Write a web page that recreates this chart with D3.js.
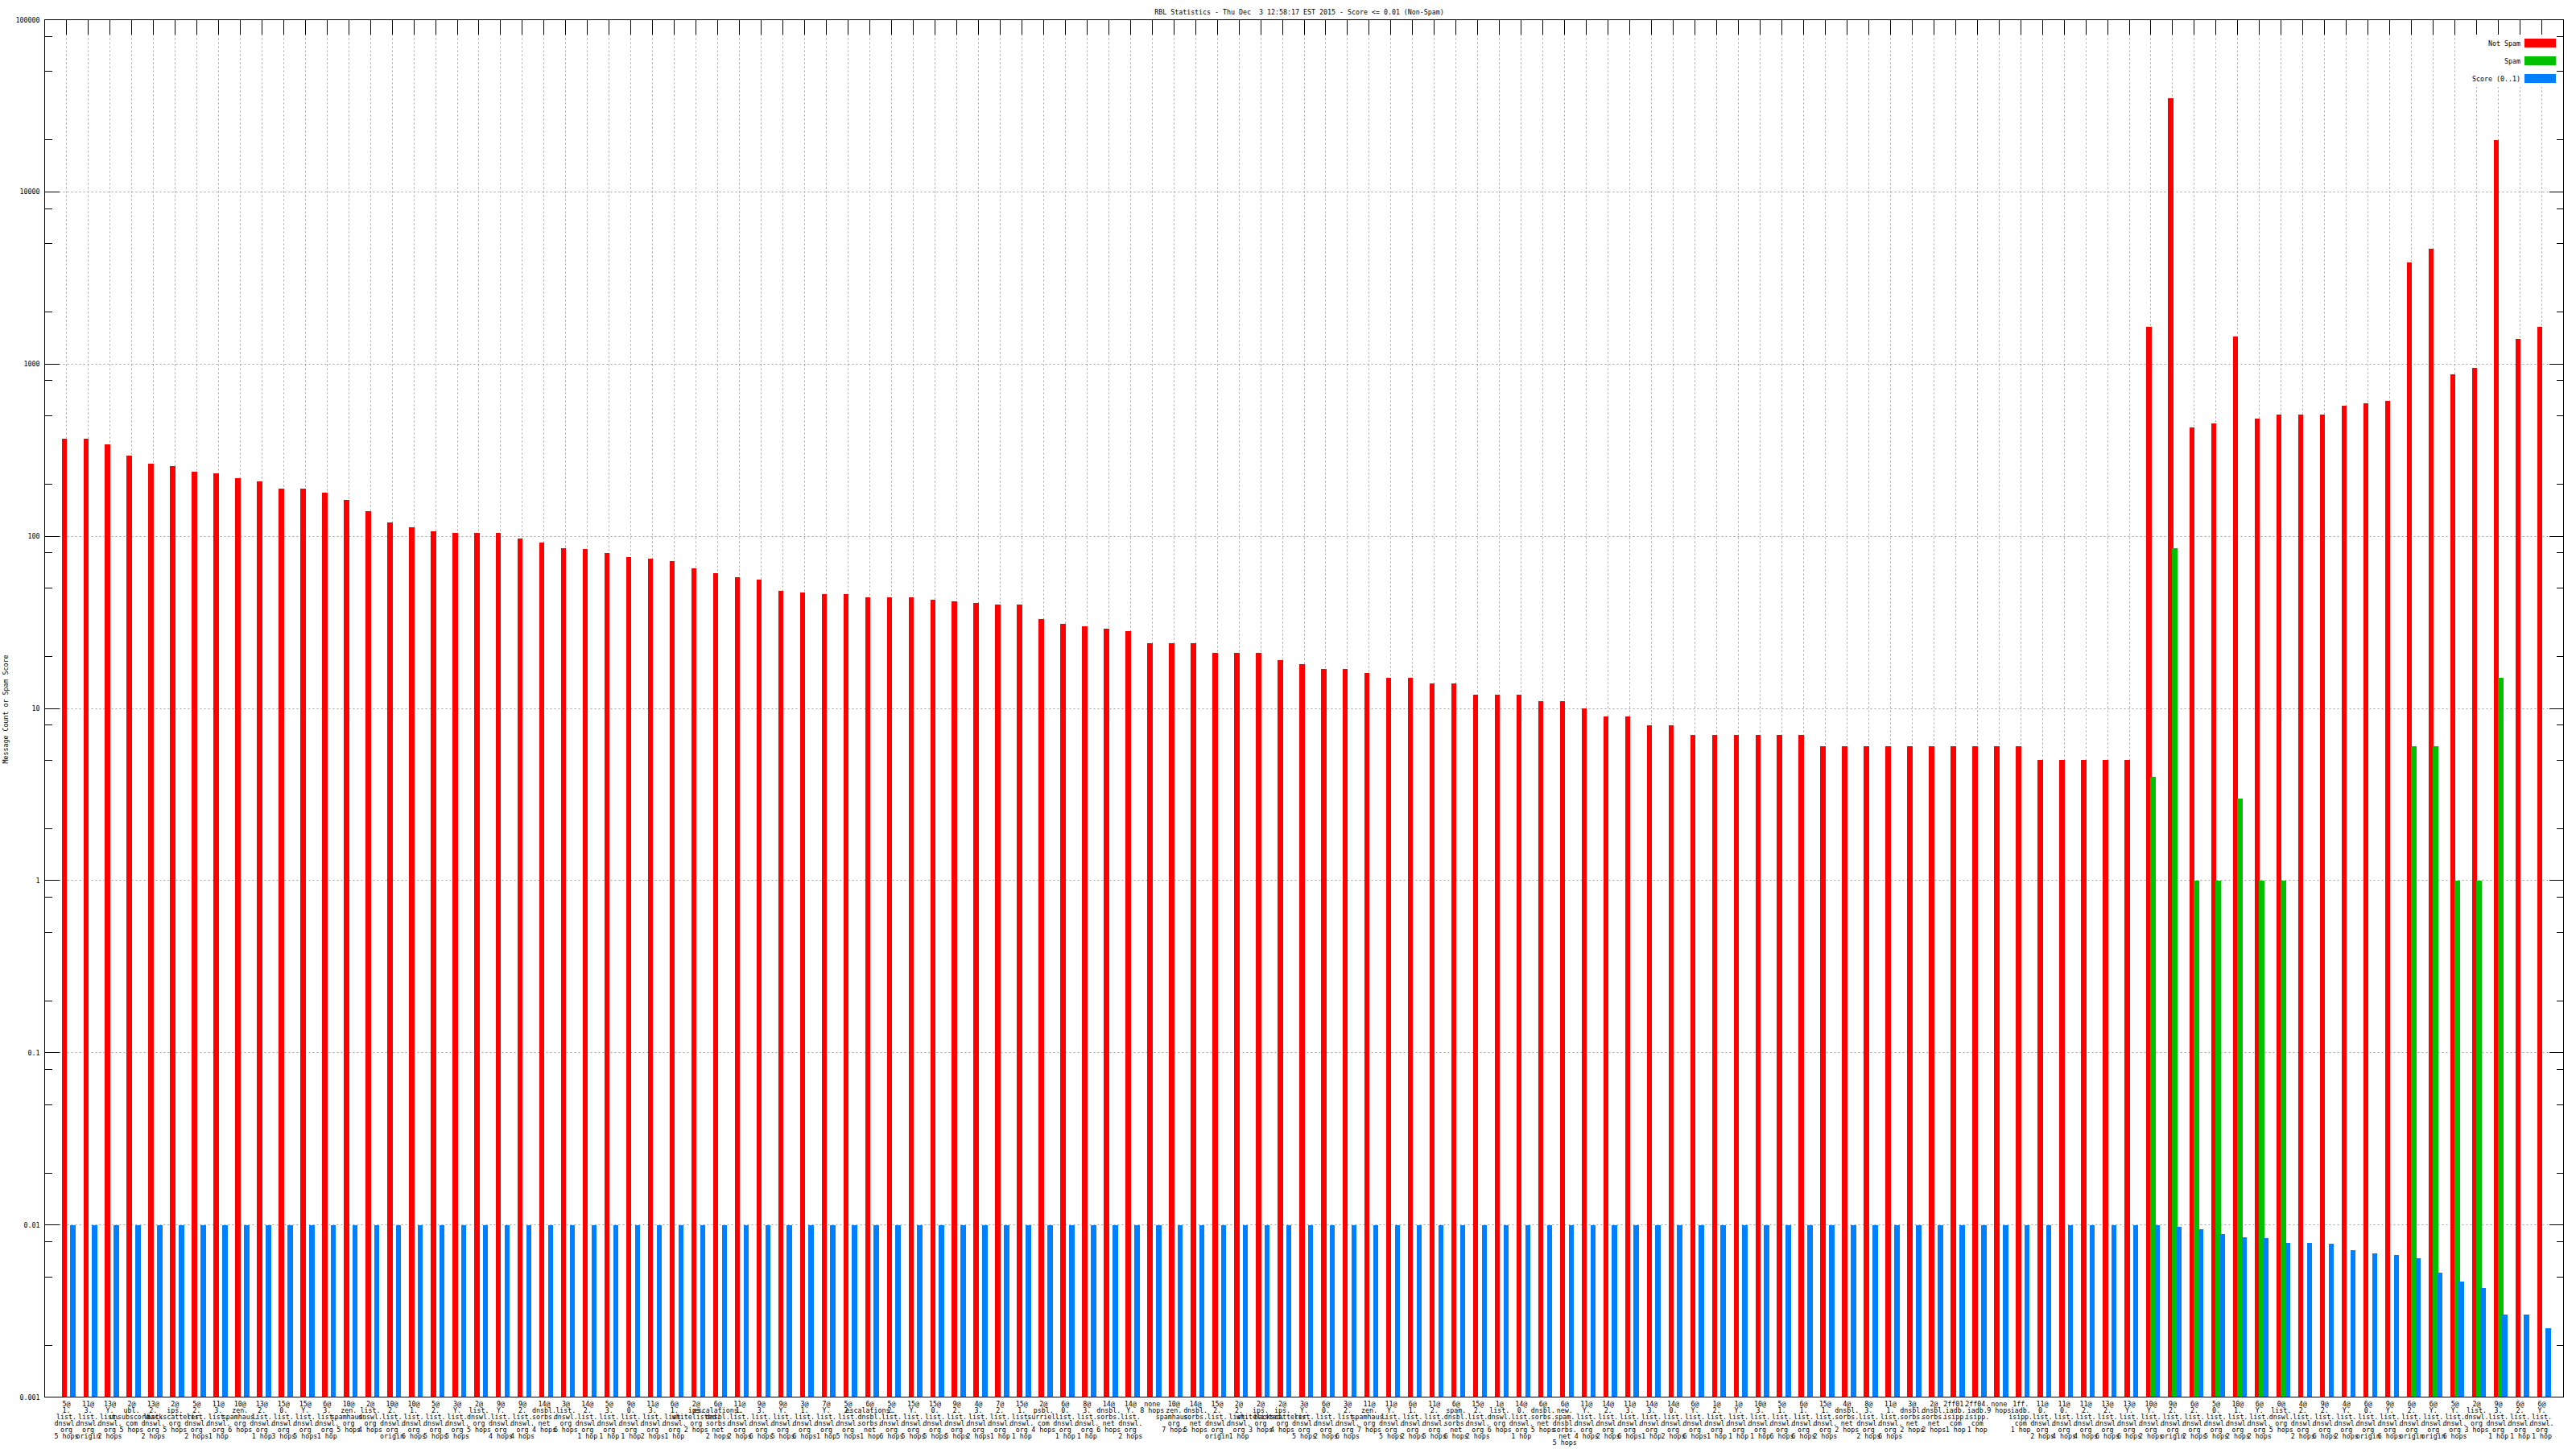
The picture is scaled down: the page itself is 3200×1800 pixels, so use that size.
<!DOCTYPE html>
<html>
<head>
<meta charset="utf-8">
<script src="https://cdn.jsdelivr.net/npm/d3@7"></script>
<style>
  html, body { margin: 0; padding: 0; background: #fff; }
  svg text { font-family: "DejaVu Sans Mono", "Liberation Mono", monospace; font-size: 8.3px; fill: #000; white-space: pre; }
</style>
</head>
<body>
<svg id="chart" width="3200" height="1800"></svg>
<script>
// ---------- DATA ----------
const title = "RBL Statistics - Thu Dec  3 12:58:17 EST 2015 - Score <= 0.01 (Non-Spam)";
const yAxisTitle = "Message Count or Spam Score";
const seriesNames = ["Not Spam", "Spam", "Score (0..1)"];
const seriesColors = ["#ff0000", "#00c000", "#0080ff"];

const categories = [
  "5@|1.|list.|dnswl.|org|5 hops", "11@|3.|list.|dnswl.|org|origin", "13@|Y.|list.|dnswl.|org|2 hops", "2@|ubl.|unsubscore.|com|5 hops", "13@|2.|list.|dnswl.|org|2 hops",
  "2@|ips.|backscatterer.|org|5 hops", "5@|2.|list.|dnswl.|org|2 hops", "11@|3.|list.|dnswl.|org|1 hop", "10@|zen.|spamhaus.|org|6 hops", "13@|2.|list.|dnswl.|org|1 hop",
  "15@|0.|list.|dnswl.|org|3 hops", "15@|Y.|list.|dnswl.|org|5 hops", "6@|3.|list.|dnswl.|org|1 hop", "10@|zen.|spamhaus.|org|5 hops", "2@|list.|dnswl.|org|4 hops",
  "10@|2.|list.|dnswl.|org|origin", "10@|1.|list.|dnswl.|org|6 hops", "5@|2.|list.|dnswl.|org|5 hops", "3@|Y.|list.|dnswl.|org|5 hops", "2@|list.|dnswl.|org|5 hops",
  "9@|Y.|list.|dnswl.|org|4 hops", "9@|2.|list.|dnswl.|org|4 hops", "14@|dnsbl.|sorbs.|net|4 hops", "3@|list.|dnswl.|org|6 hops", "14@|2.|list.|dnswl.|org|1 hop",
  "5@|3.|list.|dnswl.|org|1 hop", "9@|0.|list.|dnswl.|org|1 hop", "11@|3.|list.|dnswl.|org|2 hops", "6@|1.|list.|dnswl.|org|1 hop", "2@|ips.|whitelisted.|org|2 hops",
  "6@|escalations.|dnsbl.|sorbs.|net|2 hops", "11@|1.|list.|dnswl.|org|2 hops", "9@|3.|list.|dnswl.|org|6 hops", "9@|Y.|list.|dnswl.|org|5 hops", "3@|1.|list.|dnswl.|org|6 hops",
  "7@|Y.|list.|dnswl.|org|1 hop", "5@|2.|list.|dnswl.|org|5 hops", "6@|escalations.|dnsbl.|sorbs.|net|1 hop", "5@|2.|list.|dnswl.|org|6 hops", "15@|Y.|list.|dnswl.|org|5 hops",
  "15@|0.|list.|dnswl.|org|5 hops", "9@|2.|list.|dnswl.|org|5 hops", "4@|3.|list.|dnswl.|org|2 hops", "7@|2.|list.|dnswl.|org|1 hop", "15@|1.|list.|dnswl.|org|1 hop",
  "2@|psbl.|surriel.|com|4 hops", "6@|0.|list.|dnswl.|org|1 hop", "8@|3.|list.|dnswl.|org|1 hop", "14@|dnsbl.|sorbs.|net|6 hops", "14@|Y.|list.|dnswl.|org|2 hops",
  "none|8 hops", "10@|zen.|spamhaus.|org|7 hops", "14@|dnsbl.|sorbs.|net|5 hops", "15@|2.|list.|dnswl.|org|origin", "2@|2.|list.|dnswl.|org|1 hop",
  "2@|ips.|whitelisted.|org|3 hops", "2@|ips.|backscatterer.|org|4 hops", "3@|Y.|list.|dnswl.|org|5 hops", "6@|0.|list.|dnswl.|org|2 hops", "3@|2.|list.|dnswl.|org|6 hops",
  "11@|zen.|spamhaus.|org|7 hops", "11@|Y.|list.|dnswl.|org|5 hops", "6@|1.|list.|dnswl.|org|2 hops", "11@|2.|list.|dnswl.|org|5 hops", "6@|spam.|dnsbl.|sorbs.|net|6 hops",
  "15@|2.|list.|dnswl.|org|2 hops", "1@|list.|dnswl.|org|6 hops", "14@|0.|list.|dnswl.|org|1 hop", "6@|dnsbl.|sorbs.|net|5 hops", "6@|new.|spam.|dnsbl.|sorbs.|net|5 hops",
  "11@|Y.|list.|dnswl.|org|4 hops", "14@|2.|list.|dnswl.|org|2 hops", "11@|3.|list.|dnswl.|org|6 hops", "14@|3.|list.|dnswl.|org|1 hop", "14@|0.|list.|dnswl.|org|2 hops",
  "6@|Y.|list.|dnswl.|org|6 hops", "1@|2.|list.|dnswl.|org|1 hop", "1@|Y.|list.|dnswl.|org|1 hop", "10@|3.|list.|dnswl.|org|1 hop", "5@|1.|list.|dnswl.|org|6 hops",
  "6@|1.|list.|dnswl.|org|6 hops", "15@|1.|list.|dnswl.|org|2 hops", "4@|dnsbl.|sorbs.|net|2 hops", "8@|3.|list.|dnswl.|org|2 hops", "11@|1.|list.|dnswl.|org|6 hops",
  "3@|dnsbl.|sorbs.|net|2 hops", "2@|dnsbl.|sorbs.|net|2 hops", "2ff01.|iadb.|isipp.|com|1 hop", "2ff04.|iadb.|isipp.|com|1 hop", "none|9 hops",
  "1ff.|iadb.|isipp.|com|1 hop", "11@|0.|list.|dnswl.|org|2 hops", "11@|0.|list.|dnswl.|org|4 hops", "11@|2.|list.|dnswl.|org|4 hops", "13@|2.|list.|dnswl.|org|6 hops",
  "13@|Y.|list.|dnswl.|org|6 hops", "10@|Y.|list.|dnswl.|org|2 hops", "9@|2.|list.|dnswl.|org|origin", "6@|2.|list.|dnswl.|org|2 hops", "5@|0.|list.|dnswl.|org|5 hops",
  "10@|1.|list.|dnswl.|org|2 hops", "6@|Y.|list.|dnswl.|org|2 hops", "0@|list.|dnswl.|org|5 hops", "4@|2.|list.|dnswl.|org|2 hops", "9@|2.|list.|dnswl.|org|6 hops",
  "4@|Y.|list.|dnswl.|org|2 hops", "6@|0.|list.|dnswl.|org|origin", "9@|Y.|list.|dnswl.|org|6 hops", "6@|2.|list.|dnswl.|org|origin", "6@|Y.|list.|dnswl.|org|origin",
  "5@|Y.|list.|dnswl.|org|6 hops", "2@|list.|dnswl.|org|3 hops", "9@|3.|list.|dnswl.|org|1 hop", "6@|2.|list.|dnswl.|org|1 hop", "6@|Y.|list.|dnswl.|org|1 hop"
];

const notSpam = [
  370, 370, 340, 295, 265, 255, 237, 232, 217, 208,
  190, 188, 180, 162, 140, 120, 113, 107, 104, 104,
  104, 97, 92, 85, 84, 80, 76, 74, 72, 65,
  61, 58, 56, 48, 47, 46, 46, 44, 44, 44,
  43, 42, 41, 40, 40, 33, 31, 30, 29, 28,
  24, 24, 24, 21, 21, 21, 19, 18, 17, 17,
  16, 15, 15, 14, 14, 12, 12, 12, 11, 11,
  10, 9, 9, 8, 8, 7, 7, 7, 7, 7,
  7, 6, 6, 6, 6, 6, 6, 6, 6, 6,
  6, 5, 5, 5, 5, 5, 1650, 35000, 430, 450,
  1450, 480, 510, 510, 510, 570, 590, 610, 3900, 4700,
  870, 950, 20000, 1400, 1650
];

const spam = [
  0, 0, 0, 0, 0, 0, 0, 0, 0, 0,
  0, 0, 0, 0, 0, 0, 0, 0, 0, 0,
  0, 0, 0, 0, 0, 0, 0, 0, 0, 0,
  0, 0, 0, 0, 0, 0, 0, 0, 0, 0,
  0, 0, 0, 0, 0, 0, 0, 0, 0, 0,
  0, 0, 0, 0, 0, 0, 0, 0, 0, 0,
  0, 0, 0, 0, 0, 0, 0, 0, 0, 0,
  0, 0, 0, 0, 0, 0, 0, 0, 0, 0,
  0, 0, 0, 0, 0, 0, 0, 0, 0, 0,
  0, 0, 0, 0, 0, 0, 4, 85, 1, 1,
  3, 1, 1, 0, 0, 0, 0, 0, 6, 6,
  1, 1, 15, 0, 0
];

const score = [
  0.01, 0.01, 0.01, 0.01, 0.01, 0.01, 0.01, 0.01, 0.01, 0.01,
  0.01, 0.01, 0.01, 0.01, 0.01, 0.01, 0.01, 0.01, 0.01, 0.01,
  0.01, 0.01, 0.01, 0.01, 0.01, 0.01, 0.01, 0.01, 0.01, 0.01,
  0.01, 0.01, 0.01, 0.01, 0.01, 0.01, 0.01, 0.01, 0.01, 0.01,
  0.01, 0.01, 0.01, 0.01, 0.01, 0.01, 0.01, 0.01, 0.01, 0.01,
  0.01, 0.01, 0.01, 0.01, 0.01, 0.01, 0.01, 0.01, 0.01, 0.01,
  0.01, 0.01, 0.01, 0.01, 0.01, 0.01, 0.01, 0.01, 0.01, 0.01,
  0.01, 0.01, 0.01, 0.01, 0.01, 0.01, 0.01, 0.01, 0.01, 0.01,
  0.01, 0.01, 0.01, 0.01, 0.01, 0.01, 0.01, 0.01, 0.01, 0.01,
  0.01, 0.01, 0.01, 0.01, 0.01, 0.01, 0.01, 0.0098, 0.0094, 0.0088,
  0.0085, 0.0084, 0.0079, 0.0079, 0.0078, 0.0071, 0.0068, 0.0067, 0.0064, 0.0053,
  0.0047, 0.0043, 0.0030, 0.0030, 0.0025
];

const yTickValues = [0.001, 0.01, 0.1, 1, 10, 100, 1000, 10000, 100000];
const yTickLabels = ["0.001", "0.01", "0.1", "1", "10", "100", "1000", "10000", "100000"];
const yMinorMultipliers = [2, 5, 8];

// ---------- LAYOUT ----------
const X0 = 55.5, X1 = 3184.5, Y0 = 24.5, Y1 = 1735.5;
const MAJOR = 18, MINOR = 9;

const svg = d3.select("#chart");
svg.append("rect").attr("width", 3200).attr("height", 1800).attr("fill", "#fff");

const n = categories.length;
const x = d3.scaleLinear().domain([-1, n]).range([X0, X1]);
const y = d3.scaleLog().domain([0.001, 100000]).range([Y1, Y0]);
const unit = x(1) - x(0);

const px = v => Math.floor(v) + 0.5;

// grid
const grid = svg.append("g").attr("stroke", "#a0a0a0").attr("stroke-width", 1)
  .attr("stroke-dasharray", "2,3").attr("fill", "none");
grid.selectAll("line.v").data(d3.range(n)).join("line")
  .attr("x1", i => px(x(i))).attr("x2", i => px(x(i)))
  .attr("y1", Y0 + MAJOR).attr("y2", Y1 - MAJOR);
grid.selectAll("line.h").data(yTickValues.slice(1, -1)).join("line")
  .attr("x1", X0 + MAJOR).attr("x2", X1 - MAJOR)
  .attr("y1", d => px(y(d))).attr("y2", d => px(y(d)));

// legend background
svg.append("rect").attr("x", 3064).attr("y", Y0 + MAJOR).attr("width", X1 - 3064).attr("height", 108 - (Y0 + MAJOR)).attr("fill", "#fff");

// ticks
const ticks = svg.append("g").attr("stroke", "#000").attr("stroke-width", 1).attr("shape-rendering", "crispEdges");
ticks.selectAll("line.xt").data(d3.range(n)).join("line")
  .attr("x1", i => px(x(i))).attr("x2", i => px(x(i))).attr("y1", Y0).attr("y2", Y0 + MAJOR);
ticks.selectAll("line.xb").data(d3.range(n)).join("line")
  .attr("x1", i => px(x(i))).attr("x2", i => px(x(i))).attr("y1", Y1).attr("y2", Y1 - MAJOR);
ticks.selectAll("line.yl").data(yTickValues).join("line")
  .attr("x1", X0).attr("x2", X0 + MAJOR).attr("y1", d => px(y(d))).attr("y2", d => px(y(d)));
ticks.selectAll("line.yr").data(yTickValues).join("line")
  .attr("x1", X1 - MAJOR).attr("x2", X1).attr("y1", d => px(y(d))).attr("y2", d => px(y(d)));
const minorVals = [];
yTickValues.slice(0, -1).forEach(v => yMinorMultipliers.forEach(m => minorVals.push(v * m)));
ticks.selectAll("line.ml").data(minorVals).join("line")
  .attr("x1", X0).attr("x2", X0 + MINOR).attr("y1", d => px(y(d))).attr("y2", d => px(y(d)));
ticks.selectAll("line.mr").data(minorVals).join("line")
  .attr("x1", X1 - MINOR).attr("x2", X1).attr("y1", d => px(y(d))).attr("y2", d => px(y(d)));

// bars
const offsets = [[-0.22, 0.02], [-0.02, 0.22], [0.18, 0.42]];
const seriesData = [notSpam, spam, score];
const barsG = svg.append("g").attr("shape-rendering", "crispEdges");
seriesData.forEach((arr, s) => {
  barsG.append("g").attr("fill", seriesColors[s])
    .selectAll("rect").data(arr.map((v, i) => ({ v, i })).filter(d => d.v > 0)).join("rect")
    .attr("x", d => Math.round(x(d.i) + offsets[s][0] * unit))
    .attr("width", d => Math.round(x(d.i) + offsets[s][1] * unit) - Math.round(x(d.i) + offsets[s][0] * unit))
    .attr("y", d => Math.round(y(d.v)))
    .attr("height", d => Math.round(Y1) - Math.round(y(d.v)));
});

// border
svg.append("rect").attr("x", X0).attr("y", Y0).attr("width", X1 - X0).attr("height", Y1 - Y0)
  .attr("fill", "none").attr("stroke", "#000").attr("stroke-width", 1).attr("shape-rendering", "crispEdges");

// y tick labels
svg.append("g").selectAll("text").data(yTickValues).join("text")
  .attr("x", 49.5).attr("y", d => y(d)).attr("text-anchor", "end").attr("dominant-baseline", "central")
  .text((d, i) => yTickLabels[i]);

// x labels
const xl = svg.append("g");
categories.forEach((lab, i) => {
  const t = xl.append("text").attr("text-anchor", "middle");
  lab.split("|").forEach((line, j) => {
    t.append("tspan").attr("x", x(i)).attr("y", 1746.5 + 8 * j).text(line);
  });
});

// title
svg.append("text").attr("x", 1614).attr("y", 15).attr("text-anchor", "middle")
  .attr("dominant-baseline", "central").text(title);

// y axis title
svg.append("text").attr("transform", "translate(7,881) rotate(-90)").attr("text-anchor", "middle")
  .attr("dominant-baseline", "central").text(yAxisTitle);

// legend
const lg = svg.append("g");
seriesNames.forEach((name, s) => {
  const cy = 53.5 + 22 * s;
  lg.append("text").attr("x", 3131).attr("y", cy).attr("text-anchor", "end").attr("dominant-baseline", "central").text(name);
  lg.append("rect").attr("x", 3136).attr("y", cy - 5.5).attr("width", 39).attr("height", 11).attr("fill", seriesColors[s]);
});
</script>
</body>
</html>
